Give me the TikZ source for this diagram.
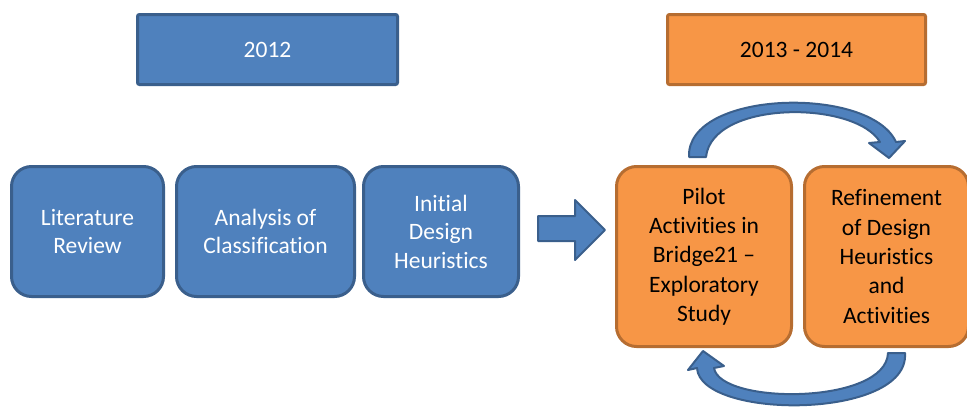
\documentclass[tikz,border=0pt]{standalone}
\usepackage{fontspec}
\setmainfont[Ligatures=NoCommon]{Carlito}
\definecolor{bluefill}{HTML}{4F81BD}
\definecolor{blueline}{HTML}{3A5F8C}
\definecolor{orangefill}{HTML}{F79646}
\definecolor{orangeline}{HTML}{B66D31}
\begin{document}
\begin{tikzpicture}[x=1pt,y=-1pt,
  yearbox/.style={draw=#1line,fill=#1fill,line width=3pt,rounded corners=2pt,anchor=north west},
  stepbox/.style={draw=#1line,fill=#1fill,line width=3pt,rounded corners=20pt,anchor=north west,
    align=center,inner sep=0pt,font=\fontsize{23.5}{28.5}\selectfont},
  arrowshape/.style={draw=blueline,fill=bluefill,line width=2pt,line join=round}]
\useasboundingbox (0,0) rectangle (967,407);
% year headers
\node[yearbox=blue,minimum width=260pt,minimum height=70pt,text=white,font=\fontsize{23.5}{28}\selectfont] (y1) at (136,13) {2012};
\node[yearbox=orange,minimum width=258pt,minimum height=70pt,text=black,font=\fontsize{23.5}{28}\selectfont] (y2) at (666,13) {2013 - 2014};
% 2012 steps
\node[stepbox=blue,minimum width=152pt,minimum height=130pt,text=white] (lit) at (10,165) {Literature\\Review};
\node[stepbox=blue,minimum width=178pt,minimum height=130pt,text=white] (ana) at (175,165) {Analysis of\\Classification};
\node[stepbox=blue,minimum width=155pt,minimum height=130pt,text=white] (ini) at (362,165) {Initial\\Design\\Heuristics};
% 2013-2014 steps
\node[stepbox=orange,minimum width=175pt,minimum height=180pt,text=black,font=\fontsize{23.5}{29.3}\selectfont] (pil) at (615,165) {Pilot\\Activities in\\Bridge21 --\\Exploratory\\Study};
\node[stepbox=orange,minimum width=164pt,minimum height=180pt,text=black,font=\fontsize{23.5}{29.3}\selectfont] (ref) at (803,165) {Refinement\\of Design\\Heuristics\\and\\Activities};
% block arrow between phases
\draw[arrowshape] (538,216) -- (575,216) -- (575,200) -- (605,230) -- (575,260) -- (575,241) -- (538,241) -- cycle;
% curved arrow over the loop
\draw[arrowshape] (689,157) .. controls (686,90) and (870,85) .. (896,142) -- (905,141) -- (889,158) -- (869,143) -- (880,142)
  .. controls (855,100) and (712,100) .. (706,157) -- cycle;
% curved arrow under the loop
\draw[arrowshape] (905,353) .. controls (910,420) and (700,420) .. (697,368) -- (688,370) -- (703,351) -- (724,366) -- (714,368)
  .. controls (720,405) and (886,405) .. (888,353) -- cycle;
\end{tikzpicture}
\end{document}
